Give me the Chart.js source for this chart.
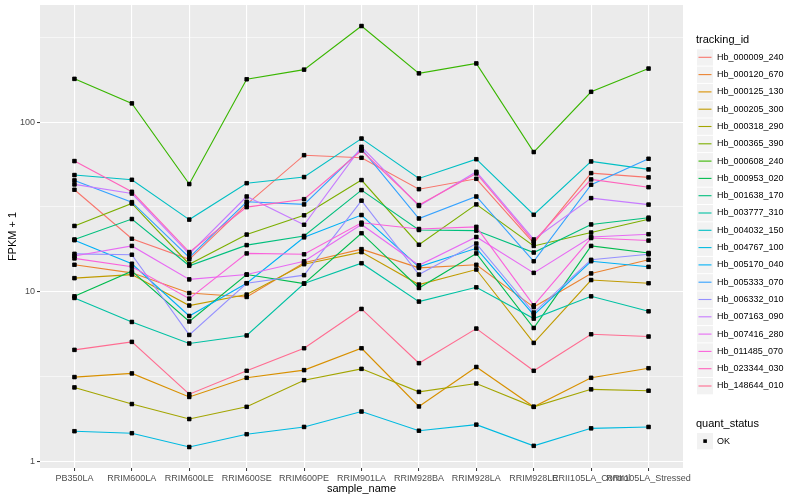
<!DOCTYPE html>
<html>
<head>
<meta charset="utf-8">
<script src="https://cdn.jsdelivr.net/npm/chart.js@4.4.0/dist/chart.umd.min.js"></script>
<style>
  html, body { margin: 0; padding: 0; background: #fff; }
  #wrap { width: 800px; height: 500px; }
</style>
</head>
<body>
<div id="wrap"><canvas id="chart" width="800" height="500"></canvas></div>
<script>
const sampleNames = ['PB350LA', 'RRIM600LA', 'RRIM600LE', 'RRIM600SE', 'RRIM600PE', 'RRIM901LA',
  'RRIM928BA', 'RRIM928LA', 'RRIM928LE', 'RRII105LA_Control', 'RRII105LA_Stressed'];

const trackingIds = ['Hb_000009_240', 'Hb_000120_670', 'Hb_000125_130', 'Hb_000205_300', 'Hb_000318_290',
  'Hb_000365_390', 'Hb_000608_240', 'Hb_000953_020', 'Hb_001638_170', 'Hb_003777_310',
  'Hb_004032_150', 'Hb_004767_100', 'Hb_005170_040', 'Hb_005333_070', 'Hb_006332_010',
  'Hb_007163_090', 'Hb_007416_280', 'Hb_011485_070', 'Hb_023344_030', 'Hb_148644_010'];

// ggplot hue palette, 20 levels
const seriesColors = ['#F8766D', '#EA8331', '#D89000', '#C09B00', '#A3A500', '#7CAE00', '#39B600',
  '#00BB4E', '#00BF7D', '#00C1A3', '#00BFC4', '#00BAE0', '#00B0F6', '#35A2FF', '#9590FF',
  '#C77CFF', '#E76BF3', '#FA62DB', '#FF62BC', '#FF6C91'];

// FPKM + 1, one value per sample
const hb000009_240 = [39.9, 20.5, 15.5, 32.7, 63.8, 61.6, 40.2, 46.3, 19.3, 50.0, 47.2];
const hb000120_670 = [14.4, 12.9, 9.8, 9.3, 14.8, 17.8, 13.8, 14.4, 8.1, 12.8, 15.4];
const hb000125_130 = [3.13, 3.29, 2.39, 3.10, 3.44, 4.63, 2.10, 3.59, 2.09, 3.10, 3.53];
const hb000205_300 = [12.0, 12.6, 8.27, 9.6, 14.5, 17.1, 11.0, 13.5, 4.98, 11.7, 11.2];
const hb000318_290 = [2.72, 2.17, 1.77, 2.09, 3.00, 3.50, 2.56, 2.87, 2.09, 2.65, 2.60];
const hb000365_390 = [24.4, 33.1, 14.5, 21.7, 28.2, 45.5, 18.9, 32.7, 18.6, 22.3, 26.7];
const hb000608_240 = [180, 129, 43.1, 179, 204, 369, 194, 222, 66.6, 151, 207];
const hb000953_020 = [9.38, 13.2, 6.66, 12.6, 11.15, 22.1, 10.5, 16.8, 6.10, 18.6, 16.9];
const hb001638_170 = [20.3, 26.8, 14.2, 18.8, 21.3, 39.7, 23.1, 22.9, 17.0, 24.9, 27.3];
const hb003777_310 = [9.17, 6.62, 4.94, 5.51, 11.15, 14.7, 8.73, 10.6, 6.93, 9.38, 7.65];
const hb004032_150 = [48.7, 45.7, 26.6, 43.6, 47.4, 80.0, 46.5, 60.4, 28.4, 58.6, 52.6];
const hb004767_100 = [1.50, 1.46, 1.21, 1.44, 1.59, 1.96, 1.51, 1.64, 1.23, 1.56, 1.59];
const hb005170_040 = [20.1, 14.6, 7.18, 11.2, 20.9, 28.3, 14.0, 18.0, 7.28, 15.1, 14.0];
const hb005333_070 = [45.3, 33.7, 15.9, 33.9, 32.7, 69.6, 27.0, 36.4, 15.1, 42.7, 60.8];
const hb006332_010 = [16.7, 16.5, 5.55, 11.2, 12.5, 34.4, 12.6, 19.2, 7.52, 15.4, 16.6];
const hb007163_090 = [42.9, 37.9, 16.7, 36.4, 24.8, 71.5, 32.0, 50.9, 20.3, 35.6, 32.6];
const hb007416_280 = [16.2, 18.6, 11.8, 12.6, 15.1, 24.9, 14.3, 21.0, 12.9, 21.0, 21.8];
const hb011485_070 = [15.7, 14.0, 9.09, 16.8, 16.6, 25.5, 23.4, 24.1, 8.30, 20.7, 20.0];
const hb023344_030 = [58.9, 38.8, 17.1, 31.5, 35.1, 68.0, 32.4, 49.8, 19.8, 45.9, 41.3];
const hb148644_010 = [4.53, 5.05, 2.48, 3.41, 4.63, 7.90, 3.78, 6.05, 3.41, 5.60, 5.43];

const seriesValues = [hb000009_240, hb000120_670, hb000125_130, hb000205_300, hb000318_290,
  hb000365_390, hb000608_240, hb000953_020, hb001638_170, hb003777_310, hb004032_150,
  hb004767_100, hb005170_040, hb005333_070, hb006332_010, hb007163_090, hb007416_280,
  hb011485_070, hb023344_030, hb148644_010];

const yMajorTicks = [1, 10, 100];
const yMinorTicks = [3.1623, 31.623, 316.23];

const FONT = '"Liberation Sans", Arial, Helvetica, sans-serif';
const isMajor = (v) => yMajorTicks.some((m) => Math.abs(m - v) < 1e-6);

const datasets = seriesValues.map((values, i) => ({
  label: trackingIds[i],
  data: values.map((v, j) => ({ x: j, y: v })),
  borderColor: seriesColors[i],
  borderWidth: 1.1,
  pointStyle: 'rect',
  pointRadius: 2.5,
  pointBackgroundColor: '#000',
  pointBorderColor: '#000',
  pointBorderWidth: 0.5,
  tension: 0,
  order: seriesValues.length - i,
}));

const panelPlugin = {
  id: 'panel',
  beforeDraw(chart) {
    const { ctx, chartArea } = chart;
    ctx.save();
    ctx.fillStyle = '#fff';
    ctx.fillRect(0, 0, chart.width, chart.height);
    ctx.fillStyle = '#EBEBEB';
    ctx.fillRect(chartArea.left, chartArea.top, chartArea.right - chartArea.left, chartArea.bottom - chartArea.top);
    ctx.restore();
  },
  // points sit over every line, like geom_point after geom_line
  afterDatasetsDraw(chart) {
    const ctx = chart.ctx;
    chart.getSortedVisibleDatasetMetas().forEach((meta) => {
      meta.data.forEach((pt) => pt.draw(ctx, chart.chartArea));
    });
  },
};

const legendPlugin = {
  id: 'ggLegend',
  afterDraw(chart) {
    const ctx = chart.ctx;
    ctx.save();
    ctx.textBaseline = 'middle';
    ctx.textAlign = 'left';
    ctx.fillStyle = '#000';
    ctx.font = '11px ' + FONT;
    ctx.fillText('tracking_id', 696, 40);
    chart.data.datasets.forEach((ds, i) => {
      const cy = 57.3 + i * 17.3;
      ctx.fillStyle = '#F2F2F2';
      ctx.fillRect(697, cy - 8, 16, 16.3);
      ctx.strokeStyle = ds.borderColor;
      ctx.lineWidth = 1.1;
      ctx.beginPath();
      ctx.moveTo(698.5, cy);
      ctx.lineTo(711.5, cy);
      ctx.stroke();
      ctx.fillStyle = '#000';
      ctx.font = '9px ' + FONT;
      ctx.fillText(ds.label, 717, cy);
    });
    ctx.font = '11px ' + FONT;
    ctx.fillText('quant_status', 696, 424);
    ctx.fillStyle = '#F2F2F2';
    ctx.fillRect(697, 433, 16, 16.3);
    ctx.fillStyle = '#000';
    ctx.fillRect(703.3, 439.3, 3.6, 3.6);
    ctx.font = '9px ' + FONT;
    ctx.fillText('OK', 717, 441.3);
    ctx.restore();
  },
};

new Chart(document.getElementById('chart'), {
  type: 'line',
  data: { datasets },
  plugins: [panelPlugin, legendPlugin],
  options: {
    responsive: false,
    animation: false,
    devicePixelRatio: 1,
    layout: { padding: { top: 5, right: 117, left: 0, bottom: 0 } },
    plugins: { legend: { display: false }, tooltip: { enabled: false } },
    scales: {
      x: {
        type: 'linear',
        min: -0.6,
        max: 10.6,
        afterBuildTicks: (scale) => {
          scale.ticks = sampleNames.map((_, i) => ({ value: i }));
        },
        afterFit: (scale) => {
          scale.height = 32;
          scale.paddingLeft = 0;
          scale.paddingRight = 0;
        },
        ticks: {
          autoSkip: false,
          maxRotation: 0,
          minRotation: 0,
          padding: 2,
          color: '#4D4D4D',
          font: { size: 9, family: FONT },
          callback: (v) => sampleNames[v],
        },
        grid: { color: '#fff', lineWidth: 1.1, tickLength: 3, tickColor: '#333', tickWidth: 1 },
        border: { display: false },
        title: { display: true, text: 'sample_name', color: '#000', font: { size: 11, family: FONT }, padding: { top: 0, bottom: 4 } },
      },
      y: {
        type: 'logarithmic',
        min: 0.91,
        max: 491,
        afterBuildTicks: (scale) => {
          scale.ticks = [...yMajorTicks, ...yMinorTicks].sort((a, b) => a - b).map((v) => ({ value: v }));
        },
        afterFit: (scale) => {
          scale.width = 40;
          scale.paddingTop = 0;
          scale.paddingBottom = 0;
        },
        ticks: {
          autoSkip: false,
          padding: 2,
          color: '#4D4D4D',
          font: { size: 9, family: FONT },
          callback: (v) => (isMajor(v) ? String(Math.round(v)) : ''),
        },
        grid: {
          color: '#fff',
          lineWidth: (c) => (c.tick && isMajor(c.tick.value) ? 1.1 : 0.55),
          tickLength: 3,
          tickWidth: 1,
          tickColor: (c) => (c.tick && isMajor(c.tick.value) ? '#333' : 'rgba(0,0,0,0)'),
        },
        border: { display: false },
        title: { display: true, text: 'FPKM + 1', color: '#000', font: { size: 11, family: FONT }, padding: { top: 6, bottom: 0 } },
      },
    },
  },
});
</script>
</body>
</html>
